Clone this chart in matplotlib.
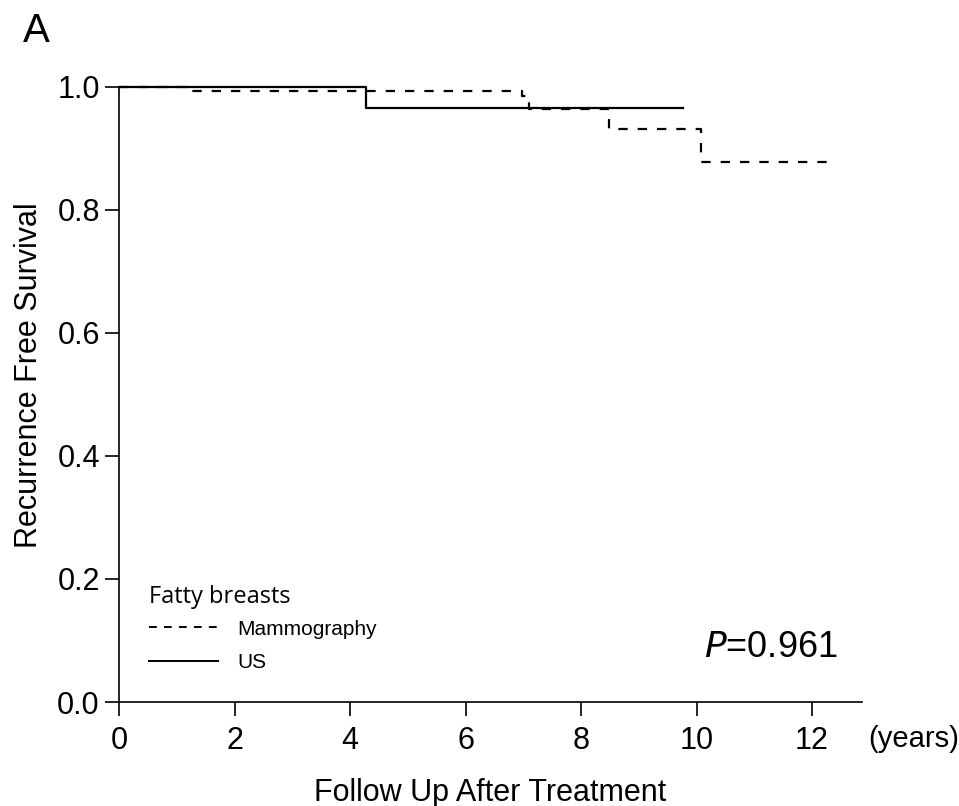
import matplotlib
matplotlib.use("Agg")
import matplotlib.pyplot as plt
from matplotlib.lines import Line2D

# Kaplan-Meier step data (time in years, survival)
mammo_t = [0.0, 1.24, 6.97, 7.10, 8.48, 10.08, 12.33]
mammo_s = [1.0, 0.993, 0.985, 0.964, 0.931, 0.878, 0.878]
us_t = [0.0, 4.27, 9.76]
us_s = [1.0, 0.965, 0.965]

xticks = [0, 2, 4, 6, 8, 10, 12]
yticks = [0.0, 0.2, 0.4, 0.6, 0.8, 1.0]
ytick_labels = ["0.0", "0.2", "0.4", "0.6", "0.8", "1.0"]

plt.rcParams['font.family'] = ['Liberation Sans', 'DejaVu Sans']

fig = plt.figure(figsize=(9.59, 8.06), dpi=100)
ax = fig.add_axes([119.3 / 959, 1 - 702 / 806, (861.7 - 119.3) / 959, (702 - 86.7) / 806])

ax.step(us_t, us_s, where='post', color='black', lw=1.6, clip_on=False, zorder=3)
ax.step(mammo_t, mammo_s, where='post', color='black', lw=1.6, linestyle=(0, (4.2, 4.5)),
        clip_on=False, zorder=4)

ax.set_xlim(0, 12.86)
ax.set_ylim(0, 1.0)
ax.set_xticks(xticks)
ax.set_yticks(yticks)
ax.set_yticklabels(ytick_labels)
for s in ['top', 'right']:
    ax.spines[s].set_visible(False)
for s in ['left', 'bottom']:
    ax.spines[s].set_linewidth(1.2)
ax.tick_params(axis='both', direction='out', length=10, width=1.2, labelsize=22)
ax.tick_params(axis='x', pad=7)
ax.tick_params(axis='y', pad=4)

ax.set_ylabel("Recurrence Free Survival", fontsize=22)
ax.yaxis.set_label_coords(-0.102, 0.531)
ax.set_xlabel("Follow Up After Treatment", fontsize=22, labelpad=16)
ax.text((868 - 119.3) / 742.4, -0.037, "(years)", transform=ax.transAxes, fontsize=21,
        ha='left', va='top')

fig.text(23 / 959, 1 - 41.7 / 806, "A", fontsize=29, ha='left', va='baseline')

ax.text(0.967, 0.088, r"$\it{P}$=0.961", transform=ax.transAxes, fontsize=26,
        ha='right', va='center', family='Liberation Sans')

handles = [Line2D([], [], color='black', lw=1.4, linestyle=(0, (4, 3.7))),
           Line2D([], [], color='black', lw=1.4)]
leg = ax.legend(handles, ["Mammography", "US"], title="Fatty breasts", loc='lower left',
                bbox_to_anchor=(0.015, 0.018), frameon=False, fontsize=15,
                handlelength=3.3, handletextpad=0.95, labelspacing=0.7,
                title_fontproperties={'family': 'Open Sans', 'size': 17})
leg._legend_box.align = "left"
leg._legend_box.sep = 7.5

fig.savefig("out.png", dpi=100)
